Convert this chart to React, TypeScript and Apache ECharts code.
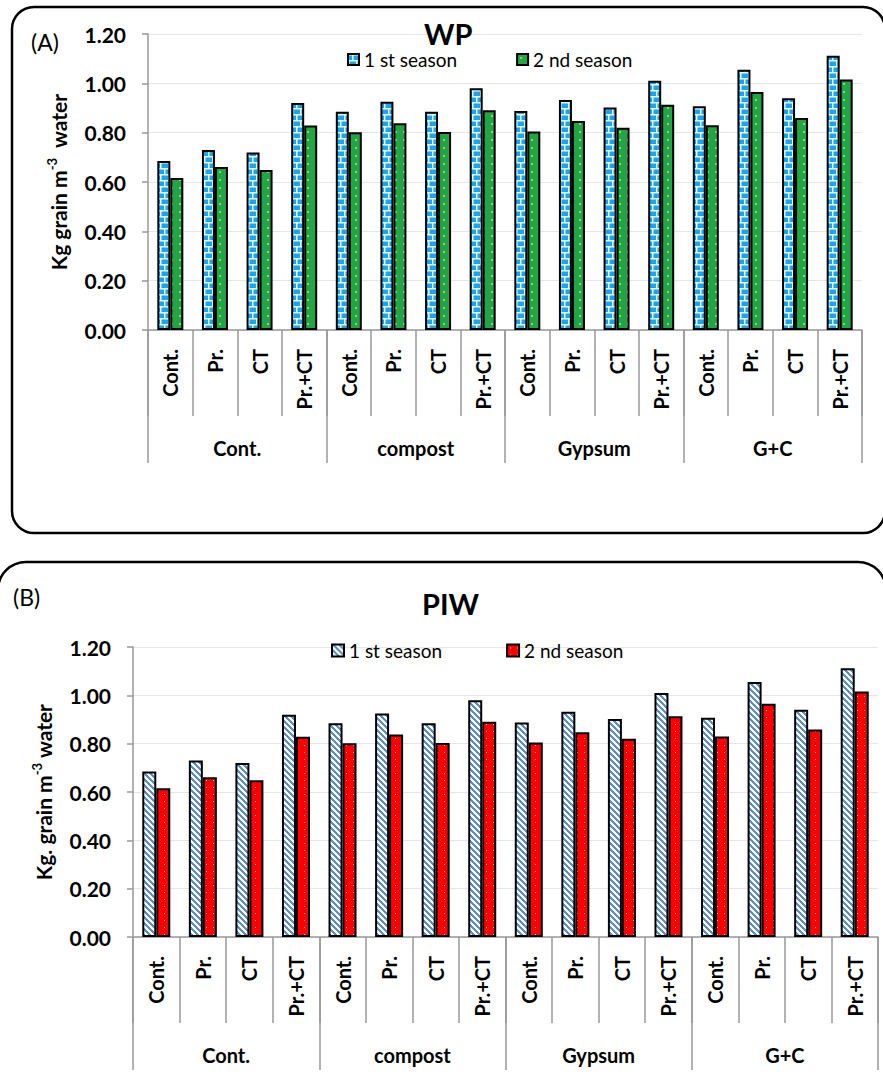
import React, { useEffect, useRef } from 'react';
import * as echarts from 'echarts';

const treatments = ['Cont.', 'Pr.', 'CT', 'Pr.+CT'];
const groups = ['Cont.', 'compost', 'Gypsum', 'G+C'];
const subLabels = groups.flatMap(() => treatments);
const yTicks = [0, 0.2, 0.4, 0.6, 0.8, 1.0, 1.2];

// WP (panel A)
const wpSeason1 = [0.685, 0.73, 0.72, 0.92, 0.885, 0.925, 0.885, 0.98, 0.888, 0.932, 0.902, 1.01, 0.907, 1.055, 0.94, 1.112];
const wpSeason2 = [0.616, 0.661, 0.649, 0.829, 0.802, 0.838, 0.803, 0.891, 0.805, 0.847, 0.82, 0.913, 0.83, 0.965, 0.859, 1.016];
// PIW (panel B)
const piwSeason1 = [0.685, 0.73, 0.72, 0.92, 0.885, 0.925, 0.885, 0.98, 0.888, 0.932, 0.902, 1.01, 0.907, 1.055, 0.94, 1.112];
const piwSeason2 = [0.616, 0.661, 0.649, 0.829, 0.802, 0.838, 0.803, 0.891, 0.805, 0.847, 0.82, 0.913, 0.83, 0.965, 0.859, 1.016];

const seasonNames = ['1 st season', '2 nd season'];

const FONT = 'Lato, "Noto Sans", sans-serif';

function makeCanvas(w: number, h: number, draw: (ctx: CanvasRenderingContext2D) => void) {
  const c = document.createElement('canvas');
  c.width = w;
  c.height = h;
  const ctx = c.getContext('2d')!;
  draw(ctx);
  return c;
}

function brickPattern() {
  return makeCanvas(8, 12, (ctx) => {
    ctx.fillStyle = '#1AA6EC';
    ctx.fillRect(0, 0, 8, 12);
    ctx.fillStyle = '#E8F8FF';
    ctx.fillRect(0, 0, 8, 1.5);
    ctx.fillRect(0, 6, 8, 1.5);
    ctx.fillRect(4, 0, 1.5, 6);
    ctx.fillRect(0, 6, 1.5, 6);
  });
}
function greenDots() {
  return makeCanvas(8, 8, (ctx) => {
    ctx.fillStyle = '#22A544';
    ctx.fillRect(0, 0, 8, 8);
    ctx.fillStyle = '#7FD86E';
    ctx.fillRect(3, 3, 2, 2);
  });
}
function stripes() {
  return makeCanvas(6, 6, (ctx) => {
    const img = ctx.createImageData(6, 6);
    for (let y = 0; y < 6; y++) {
      for (let x = 0; x < 6; x++) {
        const i = (y * 6 + x) * 4;
        const on = ((((x - y) % 6) + 6) % 6) < 3;
        img.data[i] = on ? 0x5f : 0xff;
        img.data[i + 1] = on ? 0x8e : 0xff;
        img.data[i + 2] = on ? 0xcc : 0xff;
        img.data[i + 3] = 255;
      }
    }
    ctx.putImageData(img, 0, 0);
  });
}
function redDots() {
  return makeCanvas(7, 7, (ctx) => {
    ctx.fillStyle = '#FF0000';
    ctx.fillRect(0, 0, 7, 7);
    ctx.fillStyle = '#FFB4B4';
    ctx.fillRect(3, 3, 1, 1);
  });
}

function subAxis(gridIndex: number) {
  return {
    type: 'category',
    gridIndex,
    data: subLabels,
    position: 'bottom',
    axisLine: { show: true, lineStyle: { color: '#999', width: 1.5 } },
    axisTick: { show: true, length: 86, interval: 0, lineStyle: { color: '#999', width: 1.5 } },
    axisLabel: { interval: 0, rotate: 90, margin: 19, fontSize: 20, fontWeight: 'bold', color: '#000', fontFamily: FONT },
    splitLine: { show: false },
  };
}
function groupAxis(gridIndex: number) {
  return {
    type: 'category',
    gridIndex,
    data: groups,
    position: 'bottom',
    axisLine: { show: false },
    axisTick: { show: true, length: 133, interval: 0, lineStyle: { color: '#999', width: 1.5 } },
    axisLabel: { interval: 0, margin: 108, fontSize: 20, fontWeight: 'bold', color: '#000', fontFamily: FONT },
    splitLine: { show: false },
  };
}
function valueAxis(gridIndex: number, name: string) {
  return {
    type: 'value',
    gridIndex,
    min: yTicks[0],
    max: yTicks[yTicks.length - 1],
    interval: 0.2,
    name,
    nameLocation: 'middle',
    nameGap: 77,
    nameRotate: 90,
    nameTextStyle: {
      rich: {
        a: { fontSize: 21, fontWeight: 'bold', fontFamily: FONT, color: '#000', lineHeight: 26 },
        s: { fontSize: 13, fontWeight: 'bold', fontFamily: FONT, color: '#000', verticalAlign: 'top', lineHeight: 15 },
      },
    },
    axisLine: { show: true, lineStyle: { color: '#999', width: 1.5 } },
    axisTick: { show: true, length: 6, lineStyle: { color: '#999', width: 1.5 } },
    axisLabel: { margin: 22, fontSize: 21, fontWeight: 'bold', color: '#000', fontFamily: FONT, formatter: (v: number) => v.toFixed(2) },
    splitLine: { show: true, lineStyle: { color: '#E6E6E6', width: 1 } },
  };
}

export default function App() {
  const ref = useRef<HTMLDivElement>(null);
  useEffect(() => {
    const chart = echarts.init(ref.current!, null, { renderer: 'svg' });
    const border = { borderColor: '#000', borderWidth: 2 };
    const legendNames: Record<string, string> = {
      A1: seasonNames[0], A2: seasonNames[1], B1: seasonNames[0], B2: seasonNames[1],
    };
    const option: any = {
      animation: false,
      backgroundColor: '#fff',
      title: [
        { text: 'WP', left: 419, top: 14, textStyle: { fontSize: 29, fontWeight: 'bold', fontFamily: FONT, color: '#000' } },
        { text: 'PIW', left: 417, top: 584, textStyle: { fontSize: 29, fontWeight: 'bold', fontFamily: FONT, color: '#000' } },
      ],
      legend: [
        {
          data: ['A1', 'A2'], left: 342, top: 45, itemWidth: 11, itemHeight: 11, itemGap: 59, icon: 'rect',
          formatter: (n: string) => legendNames[n],
          textStyle: { fontSize: 19, fontFamily: FONT, color: '#000' },
        },
        {
          data: ['B1', 'B2'], left: 326, top: 636, itemWidth: 12, itemHeight: 12, itemGap: 64, icon: 'rect',
          formatter: (n: string) => legendNames[n],
          textStyle: { fontSize: 19, fontFamily: FONT, color: '#000' },
        },
      ],
      grid: [
        { left: 148, top: 34, width: 714, height: 296 },
        { left: 133, top: 647, width: 745, height: 290 },
      ],
      xAxis: [subAxis(0), groupAxis(0), subAxis(1), groupAxis(1)],
      yAxis: [
        valueAxis(0, '{a|Kg grain m}{s|-3}{a|  water}'),
        valueAxis(1, '{a|Kg. grain m}{s|-3}{a| water}'),
      ],
      series: [
        { name: 'A1', type: 'bar', xAxisIndex: 0, yAxisIndex: 0, data: wpSeason1, barWidth: 13, barGap: '0%',
          itemStyle: { color: { image: brickPattern(), repeat: 'repeat' }, ...border } },
        { name: 'A2', type: 'bar', xAxisIndex: 0, yAxisIndex: 0, data: wpSeason2, barWidth: 13, barGap: '0%',
          itemStyle: { color: { image: greenDots(), repeat: 'repeat' }, ...border } },
        { name: 'B1', type: 'bar', xAxisIndex: 2, yAxisIndex: 1, data: piwSeason1, barWidth: 14, barGap: '0%',
          itemStyle: { color: { image: stripes(), repeat: 'repeat' }, ...border } },
        { name: 'B2', type: 'bar', xAxisIndex: 2, yAxisIndex: 1, data: piwSeason2, barWidth: 14, barGap: '0%',
          itemStyle: { color: { image: redDots(), repeat: 'repeat' }, ...border } },
      ],
      graphic: [
        { type: 'rect', shape: { x: 12, y: 7, width: 873, height: 526, r: 22 }, style: { fill: 'none', stroke: '#000', lineWidth: 2.5 }, silent: true, z: 10 },
        { type: 'rect', shape: { x: -2, y: 562, width: 888, height: 540, r: 28 }, style: { fill: 'none', stroke: '#000', lineWidth: 2.5 }, silent: true, z: 10 },
        { type: 'text', x: 31, y: 42, style: { text: '(A)', fontSize: 23, fontFamily: FONT, fill: '#000', textVerticalAlign: 'middle', verticalAlign: 'middle' } },
        { type: 'text', x: 13, y: 597, style: { text: '(B)', fontSize: 23, fontFamily: FONT, fill: '#000', textVerticalAlign: 'middle', verticalAlign: 'middle' } },
      ],
    };
    chart.setOption(option);
    return () => chart.dispose();
  }, []);
  return <div ref={ref} style={{ position: 'absolute', left: 0, top: 0, width: 883, height: 1080, background: '#fff' }} />;
}
